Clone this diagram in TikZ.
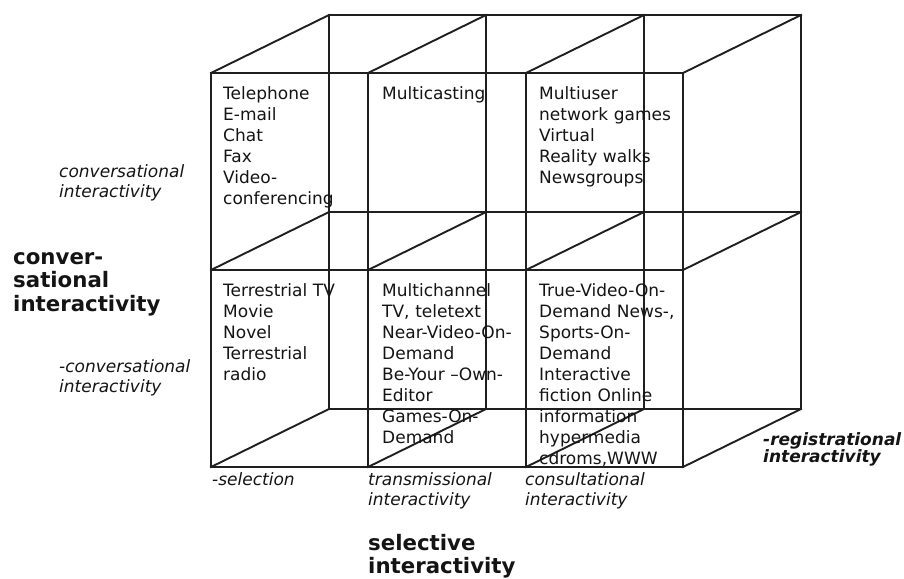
\documentclass[tikz,border=0pt]{standalone}
\usepackage{fontspec}
\setmainfont{DejaVu Sans}
\begin{document}
\begin{tikzpicture}[x=1pt,y=-1pt,
  grid/.style={line width=1.9pt, draw=black!88, line cap=rect},
  body/.style={anchor=base west, inner sep=0pt, text width=170pt, align=left,
    font=\fontsize{17}{21.1}\selectfont, text=black!92},
  ital/.style={anchor=base west, inner sep=0pt, text width=170pt, align=left,
    font=\fontsize{17}{20}\selectfont\itshape, text=black!92},
  boldlab/.style={anchor=base west, inner sep=0pt, text width=200pt, align=left,
    font=\fontsize{21.3}{23.5}\selectfont\bfseries, text=black!92},
  bolditlab/.style={anchor=base west, inner sep=0pt, text width=170pt, align=left,
    font=\fontsize{17}{17.5}\selectfont\bfseries\itshape, text=black!92}]
\useasboundingbox (0,0) rectangle (904,578);
% grid points: front (f) and back (b)
\foreach \i/\x in {0/211,1/368,2/526,3/683}{
  \foreach \j/\y in {0/73,1/270,2/467}{
    \coordinate (f\i\j) at (\x,\y);
    \coordinate (b\i\j) at (\x+118,\y-58);
  }
}
% back grid
\foreach \i in {0,1,2,3}{ \draw[grid] (b\i0) -- (b\i2); }
\foreach \j in {0,1,2}{ \draw[grid] (b0\j) -- (b3\j); }
% depth lines
\foreach \i in {0,1,2,3}{ \foreach \j in {0,1,2}{ \draw[grid] (f\i\j) -- (b\i\j); } }
% front grid
\foreach \i in {0,1,2,3}{ \draw[grid] (f\i0) -- (f\i2); }
\foreach \j in {0,1,2}{ \draw[grid] (f0\j) -- (f3\j); }
% cell texts
\node[body] (t1) at (223,99) {Telephone\\E-mail\\Chat\\Fax\\Video-\\conferencing};
\node[body] (t2) at (382,99) {Multicasting};
\node[body] (t3) at (539,99) {Multiuser\\network games\\Virtual\\Reality walks\\Newsgroups};
\node[body] (c1) at (223,296) {Terrestrial TV\\Movie\\Novel\\Terrestrial\\radio};
\node[body] (c2) at (382,296) {Multichannel\\TV, teletext\\Near-Video-On-\\Demand\\Be-Your –Own-\\Editor\\Games-On-\\Demand};
\node[body] (c3) at (539,296) {True-Video-On-\\Demand News-,\\Sports-On-\\Demand\\Interactive\\fiction Online\\information\\hypermedia\\cdroms,WWW};
% axis labels
\node[ital] (lc1) at (59,177) {conversational\\interactivity};
\node[ital] (lc2) at (59,372) {-conversational\\interactivity};
\node[boldlab] (cv) at (13,264) {conver-\\sational\\interactivity};
\node[ital] (s1) at (212,485) {-selection};
\node[ital] (s2) at (368,485) {transmissional\\interactivity};
\node[ital] (s3) at (525,485) {consultational\\interactivity};
\node[boldlab] (sel) at (368,550) {selective\\interactivity};
\node[bolditlab] (reg) at (763,445) {-registrational\\interactivity};
\end{tikzpicture}
\end{document}
